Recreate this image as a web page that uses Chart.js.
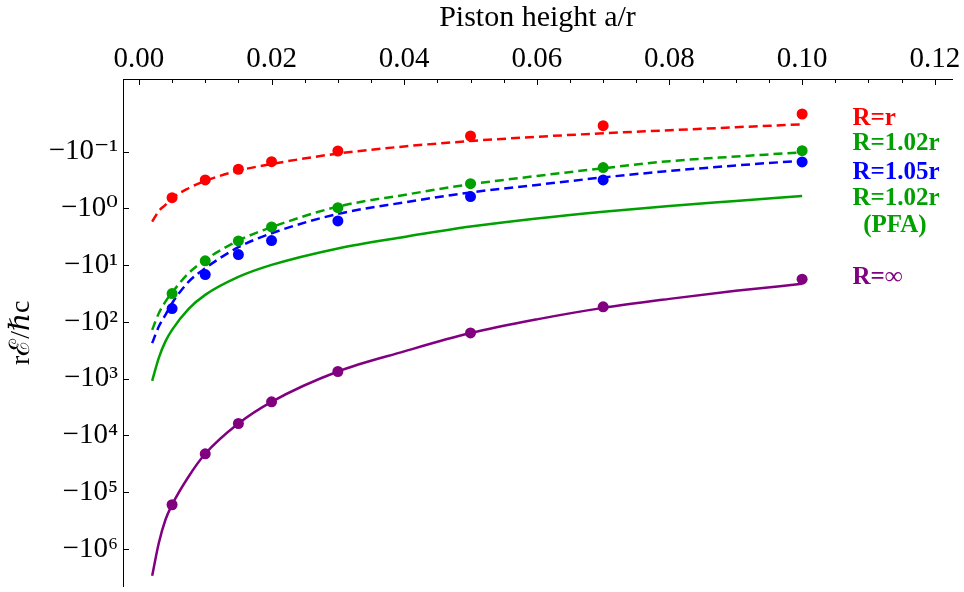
<!DOCTYPE html>
<html>
<head>
<meta charset="utf-8">
<script src="https://cdn.jsdelivr.net/npm/chart.js@4.4.1/dist/chart.umd.min.js"></script>
<style>
  html, body { margin: 0; padding: 0; background: #fff; }
</style>
</head>
<body>
<canvas id="chart" width="964" height="592"></canvas>
<script>
// --- values (rE/hbar c, negative energies) ---
const fitX = [0.002, 0.003, 0.004, 0.005, 0.0075, 0.01, 0.015, 0.02, 0.03, 0.04, 0.05, 0.06, 0.07, 0.08, 0.09, 0.10];
const fitRr    = [-1.71, -1.11, -0.867, -0.661, -0.441, -0.328, -0.216, -0.165, -0.108, -0.0809, -0.0649, -0.0547, -0.0474, -0.0420, -0.0371, -0.0330];
const fitR102  = [-137.7, -70.0, -43.8, -30.3, -13.8, -8.07, -3.69, -2.14, -0.929, -0.578, -0.375, -0.268, -0.196, -0.147, -0.122, -0.1026];
const fitR105  = [-236, -120.5, -75.0, -46.7, -19.5, -11.3, -4.82, -2.74, -1.25, -0.783, -0.522, -0.385, -0.284, -0.219, -0.175, -0.144];
const pfaR102  = [-1089, -429, -220, -137.7, -58.7, -33.3, -16.1, -9.89, -5.06, -3.18, -2.09, -1.50, -1.14, -0.904, -0.738, -0.603];
const exactInf = [-2.95e6, -7.83e5, -3.05e5, -1.66e5, -5.27e4, -2.10e4, -6150, -2550, -746, -330, -157, -90, -56.5, -39.2, -28.3, -21.3];

const pointX   = [0.005, 0.01, 0.015, 0.02, 0.03, 0.05, 0.07, 0.10];
const ptsRr    = [-0.646, -0.315, -0.204, -0.150, -0.0973, -0.0530, -0.0348, -0.0217];
const ptsR102  = [-31.6, -8.39, -3.73, -2.12, -0.968, -0.366, -0.191, -0.0959];
const ptsR105  = [-58.1, -14.6, -6.50, -3.69, -1.66, -0.619, -0.315, -0.152];
const ptsInf   = [-1.66e5, -2.10e4, -6150, -2550, -746, -156, -54.2, -17.6];

const xTickLabels = ["0.00", "0.02", "0.04", "0.06", "0.08", "0.10", "0.12"];
const yTickExps = [-1, 0, 1, 2, 3, 4, 5, 6];

const seriesNames = ["R=r", "R=1.02r", "R=1.05r", "R=1.02r", "(PFA)", "R=\u221E"];
const nameColors = ["#ff0000", "#00a000", "#0000ff", "#00a000", "#00a000", "#800080"];
// where the names sit, in data units (x, log10|E|)
const nameX = [0.1076, 0.1076, 0.1076, 0.1076, 0.1092, 0.1076];
const nameY = [-1.576, -1.136, -0.625, -0.167, 0.308, 1.224];

const RED = "#ff0000", GREEN = "#00a000", BLUE = "#0000ff", PURPLE = "#800080";
const SERIF = "'Liberation Serif', 'DejaVu Serif', serif";

const toXY = (xs, ys) => xs.map((x, i) => ({ x: x, y: Math.log10(-ys[i]) }));

const SUP = { "-": "\u207B", "0": "\u2070", "1": "\u00B9", "2": "\u00B2", "3": "\u00B3",
              "4": "\u2074", "5": "\u2075", "6": "\u2076" };

function pointSet(ys, color) {
    return { data: toXY(pointX, ys), showLine: false, pointRadius: 5.5, pointHoverRadius: 5.5,
             pointBorderWidth: 0, backgroundColor: color, borderColor: color };
}
function lineSet(ys, color, dashed) {
    return { data: toXY(fitX, ys), showLine: true, pointRadius: 0, borderWidth: 2.5,
             borderColor: color, borderDash: dashed ? [9, 5] : [], cubicInterpolationMode: "monotone",
             fill: false };
}

// tick marks drawn inward, plus the curve names
const innerTicks = {
    id: "innerTicks",
    afterDraw(chart) {
        const { ctx, chartArea, scales: { x, y } } = chart;
        ctx.save();
        ctx.strokeStyle = "#000";
        ctx.lineWidth = 1;
        ctx.beginPath();
        x.ticks.forEach((t, i) => {
            const px = Math.round(x.getPixelForValue(t.value)) + 0.5;
            ctx.moveTo(px, chartArea.top);
            ctx.lineTo(px, chartArea.top + (i % 4 === 0 ? 6 : 4));
        });
        y.ticks.forEach(t => {
            const py = Math.round(y.getPixelForValue(t.value)) + 0.5;
            ctx.moveTo(chartArea.left, py);
            ctx.lineTo(chartArea.left + 6, py);
        });
        ctx.stroke();

        ctx.font = "bold 25px " + SERIF;
        ctx.textAlign = "left";
        ctx.textBaseline = "middle";
        seriesNames.forEach((name, i) => {
            ctx.fillStyle = nameColors[i];
            ctx.fillText(name, x.getPixelForValue(nameX[i]), y.getPixelForValue(nameY[i]));
        });
        ctx.restore();
    }
};

new Chart(document.getElementById("chart"), {
    type: "scatter",
    data: {
        datasets: [
            pointSet(ptsRr, RED),
            pointSet(ptsR102, GREEN),
            pointSet(ptsR105, BLUE),
            pointSet(ptsInf, PURPLE),
            lineSet(fitRr, RED, true),
            lineSet(fitR102, GREEN, true),
            lineSet(fitR105, BLUE, true),
            lineSet(pfaR102, GREEN, false),
            lineSet(exactInf, PURPLE, false)
        ]
    },
    options: {
        responsive: false,
        animation: false,
        devicePixelRatio: 1,
        layout: { padding: { left: 0, right: 12, top: 0, bottom: 0 } },
        plugins: { legend: { display: false }, tooltip: { enabled: false } },
        scales: {
            x: {
                type: "linear",
                position: "top",
                min: -0.0024,
                max: 0.1226,
                afterBuildTicks: s => {
                    s.ticks = Array.from({ length: 25 }, (_, i) => ({ value: i * 0.005 }));
                },
                afterFit: s => {
                    s.height = 79;
                    s.paddingLeft = 0;
                    s.paddingRight = 0;
                },
                grid: { display: false, drawTicks: false },
                border: { display: true, color: "#000", width: 1 },
                ticks: {
                    autoSkip: false,
                    maxRotation: 0,
                    padding: 2,
                    color: "#000",
                    font: { family: SERIF, size: 29 },
                    callback: (v, i) => (i % 4 === 0 ? xTickLabels[i / 4] : "")
                },
                title: {
                    display: true,
                    text: "Piston height a/r",
                    color: "#000",
                    font: { family: SERIF, size: 30 },
                    padding: { top: 0, bottom: 0 }
                }
            },
            y: {
                type: "linear",
                reverse: true,
                min: -2.28,
                max: 6.66,
                afterBuildTicks: s => {
                    s.ticks = yTickExps.map(v => ({ value: v }));
                },
                afterFit: s => {
                    s.width = 123;
                    s.paddingTop = 0;
                    s.paddingBottom = 0;
                },
                grid: { display: false, drawTicks: false },
                border: { display: true, color: "#000", width: 1 },
                ticks: {
                    autoSkip: false,
                    padding: 5,
                    color: "#000",
                    font: { family: SERIF, size: 29 },
                    callback: v => "\u221210" + String(v).split("").map(c => SUP[c]).join("")
                },
                title: {
                    display: true,
                    text: "r\u2130/\u210Fc",
                    color: "#000",
                    font: { family: SERIF, size: 28 },
                    padding: { top: 5, bottom: 0 }
                }
            }
        }
    },
    plugins: [innerTicks]
});
</script>
</body>
</html>
